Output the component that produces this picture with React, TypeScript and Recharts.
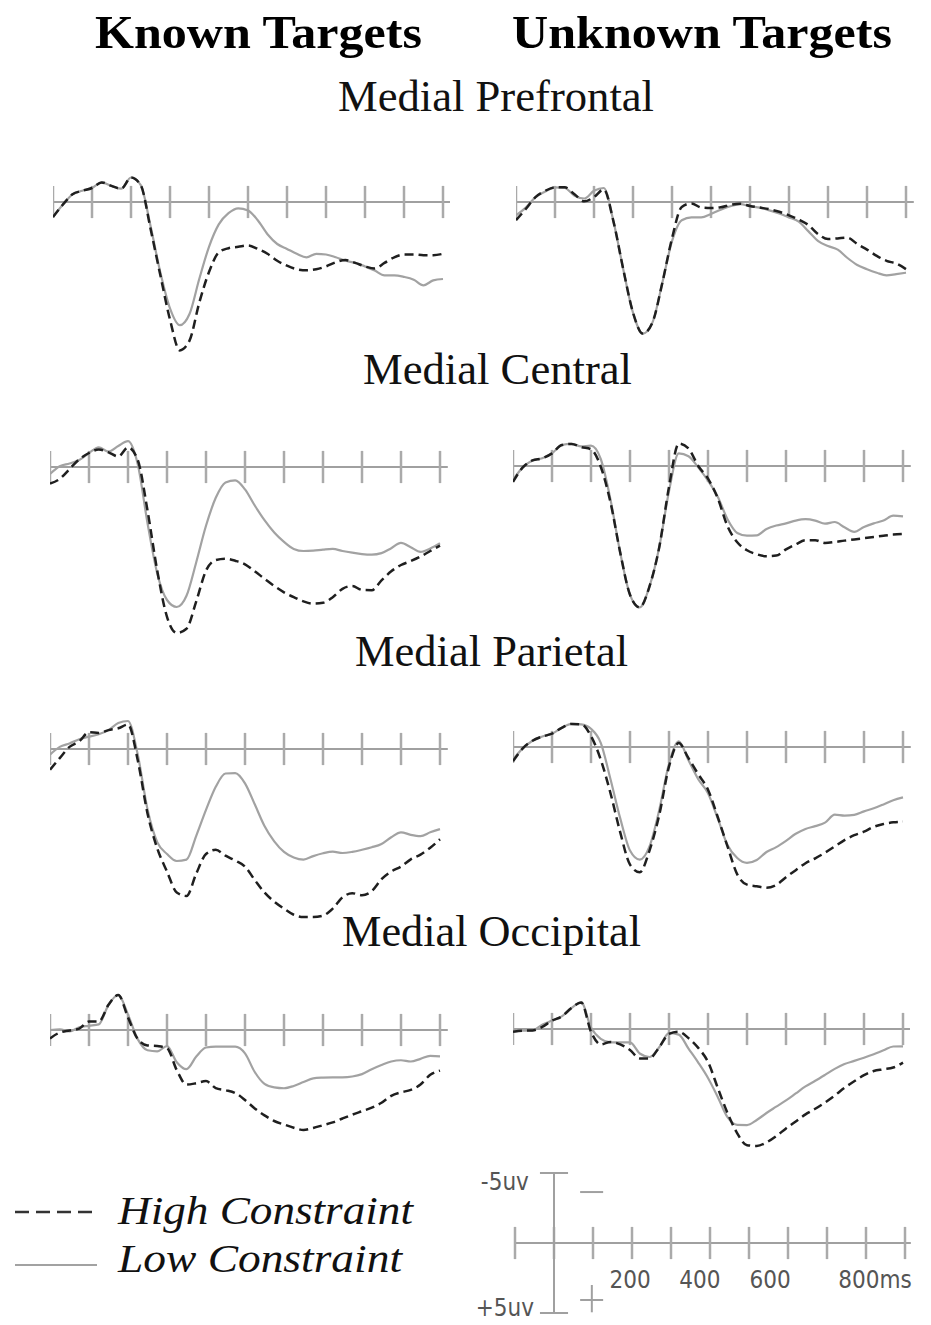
import React from 'react';
import { LineChart, Line, XAxis, YAxis, ReferenceLine, ReferenceDot } from 'recharts';

// sample times (ms), every 25 ms from -100 to 900
const times = [
  -100, -75, -50, -25, 0, 25, 50, 75, 100, 125, 150, 175, 200, 225, 250, 275, 300, 325, 350, 375,
  400, 425, 450, 475, 500, 525, 550, 575, 600, 625, 650, 675, 700, 725, 750, 775, 800, 825, 850, 875, 900,
];
const tickTimes = [-100, 0, 100, 200, 300, 400, 500, 600, 700, 800, 900];
const scaleLabels = ['200', '400', '600', '800ms'];
const scaleLabelTimes = [195, 374, 554, 823];

// amplitudes in microvolts (positive plotted downward)
// Medial Prefrontal
const knownPrefrontalHigh = [1.07, 0.2, -0.55, -0.8, -1.0, -1.4, -1.15, -0.95, -1.75, -1.2, 1.9, 5.2, 8.4, 10.6, 9.9, 7.2, 5.0, 3.6, 3.3, 3.2, 3.1, 3.35, 3.7, 4.2, 4.55, 4.8, 4.88, 4.8, 4.6, 4.3, 4.15, 4.35, 4.6, 4.75, 4.35, 3.95, 3.75, 3.75, 3.8, 3.8, 3.7];
const knownPrefrontalLow = [1.07, 0.2, -0.55, -0.8, -1.0, -1.4, -1.15, -0.95, -1.75, -1.2, 1.7, 5.0, 7.6, 8.8, 8.0, 5.5, 3.2, 1.6, 0.8, 0.45, 0.6, 1.3, 2.3, 3.0, 3.35, 3.7, 3.95, 3.7, 3.75, 3.95, 4.2, 4.35, 4.6, 4.9, 5.24, 5.24, 5.35, 5.55, 5.95, 5.6, 5.5];
const unknownPrefrontalHigh = [1.3, 0.5, -0.35, -0.8, -1.05, -1.05, -0.55, -0.05, -0.35, -0.9, 1.4, 4.8, 7.9, 9.4, 8.6, 5.8, 2.6, 0.35, 0.1, 0.4, 0.43, 0.38, 0.2, 0.12, 0.28, 0.4, 0.52, 0.7, 0.95, 1.25, 1.65, 2.3, 2.65, 2.6, 2.55, 3.0, 3.4, 3.85, 4.2, 4.4, 4.8];
const unknownPrefrontalLow = [0.95, 0.4, -0.35, -0.75, -1.05, -1.0, -0.45, -0.25, -0.8, -1.0, 1.4, 4.8, 7.9, 9.4, 8.6, 5.8, 2.8, 1.3, 1.1, 1.1, 0.85, 0.55, 0.3, 0.15, 0.3, 0.4, 0.6, 0.82, 1.1, 1.4, 2.1, 2.8, 3.15, 3.4, 4.0, 4.5, 4.8, 5.05, 5.24, 5.15, 5.05];

// Medial Central
const knownCentralHigh = [1.19, 0.85, 0.15, -0.55, -1.0, -1.25, -1.05, -0.75, -1.4, -0.5, 3.1, 7.4, 10.7, 11.85, 11.55, 9.6, 7.4, 6.65, 6.55, 6.7, 6.95, 7.45, 7.98, 8.5, 8.95, 9.3, 9.6, 9.76, 9.7, 9.3, 8.7, 8.5, 8.78, 8.8, 8.1, 7.45, 7.0, 6.72, 6.4, 6.0, 5.62];
const knownCentralLow = [0.5, -0.05, -0.25, -0.5, -1.0, -1.4, -1.1, -1.5, -1.85, -0.2, 4.0, 7.6, 9.5, 10.0, 9.2, 6.8, 4.2, 2.2, 1.1, 0.95, 1.6, 2.75, 3.8, 4.68, 5.35, 5.85, 6.0, 5.97, 5.9, 5.85, 6.0, 6.12, 6.22, 6.26, 6.15, 5.8, 5.42, 5.73, 6.06, 5.82, 5.45];
const unknownCentralHigh = [1.14, 0.1, -0.4, -0.55, -0.9, -1.5, -1.58, -1.35, -1.2, 0.05, 2.6, 6.2, 9.2, 10.1, 8.6, 5.8, 1.5, -1.6, -1.25, 0.0, 0.9, 2.3, 4.3, 5.45, 6.02, 6.3, 6.45, 6.4, 5.95, 5.6, 5.3, 5.3, 5.5, 5.43, 5.33, 5.25, 5.16, 5.07, 4.98, 4.9, 4.85];
const unknownCentralLow = [1.0, 0.1, -0.4, -0.55, -0.9, -1.5, -1.58, -1.4, -1.45, -0.5, 2.4, 6.2, 9.2, 10.1, 8.6, 5.8, 1.8, -0.9, -0.7, 0.1, 1.05, 2.2, 3.8, 4.78, 4.97, 4.95, 4.5, 4.25, 4.1, 3.9, 3.8, 3.9, 4.12, 4.0, 4.38, 4.7, 4.35, 4.1, 3.9, 3.55, 3.6];

// Medial Parietal
const knownParietalHigh = [1.48, 0.65, -0.15, -0.55, -1.2, -1.15, -1.35, -1.48, -1.75, 0.8, 4.6, 7.1, 8.75, 10.25, 10.5, 8.9, 7.5, 7.2, 7.62, 7.97, 8.4, 9.35, 10.25, 10.9, 11.4, 11.84, 12.0, 12.0, 11.9, 11.4, 10.6, 10.3, 10.45, 10.15, 9.3, 8.75, 8.4, 7.88, 7.54, 7.05, 6.45];
const knownParietalLow = [0.4, -0.15, -0.4, -0.7, -0.88, -1.05, -1.35, -1.85, -2.0, 0.4, 4.3, 6.65, 7.5, 8.0, 7.9, 6.2, 4.35, 2.7, 1.75, 1.72, 2.45, 3.95, 5.5, 6.6, 7.35, 7.75, 7.9, 7.65, 7.45, 7.33, 7.43, 7.35, 7.2, 7.02, 6.78, 6.3, 5.95, 6.13, 6.22, 5.95, 5.72];
const unknownParietalHigh = [1.02, 0.1, -0.45, -0.75, -0.95, -1.37, -1.65, -1.62, -0.78, 0.9, 3.3, 6.1, 8.4, 8.95, 7.4, 4.85, 1.4, -0.28, 0.8, 1.95, 3.05, 5.0, 7.1, 9.1, 9.83, 9.95, 10.05, 9.85, 9.3, 8.8, 8.3, 7.95, 7.55, 7.1, 6.65, 6.3, 6.05, 5.7, 5.5, 5.38, 5.33];
const unknownParietalLow = [0.9, 0.1, -0.45, -0.75, -0.95, -1.37, -1.65, -1.62, -1.3, -0.3, 2.3, 5.1, 7.4, 8.05, 7.1, 4.5, 1.2, -0.4, 0.95, 2.3, 3.3, 5.1, 7.0, 7.93, 8.28, 8.07, 7.5, 7.15, 6.7, 6.2, 5.85, 5.65, 5.4, 4.83, 4.9, 4.85, 4.6, 4.38, 4.1, 3.8, 3.6];

// Medial Occipital
const knownOccipitalHigh = [0.6, 0.18, 0.03, -0.1, -0.6, -0.6, -1.8, -2.5, -0.9, 0.65, 1.1, 1.15, 1.3, 2.86, 3.9, 3.8, 3.65, 4.15, 4.3, 4.5, 5.0, 5.6, 6.1, 6.5, 6.75, 6.98, 7.14, 7.0, 6.8, 6.6, 6.32, 6.05, 5.8, 5.55, 5.2, 4.7, 4.45, 4.28, 3.9, 3.2, 2.9];
const knownOccipitalLow = [0.0, -0.05, 0.1, -0.2, -0.3, -0.4, -1.8, -2.5, -1.1, 0.65, 1.45, 1.53, 1.15, 2.3, 2.8, 1.9, 1.25, 1.19, 1.19, 1.19, 1.67, 3.0, 3.85, 4.1, 4.16, 4.0, 3.72, 3.45, 3.4, 3.38, 3.38, 3.32, 3.15, 2.8, 2.5, 2.25, 2.16, 2.25, 2.06, 1.85, 1.88];
const unknownOccipitalHigh = [0.19, 0.12, 0.1, -0.15, -0.6, -0.9, -1.5, -1.9, 0.2, 1.1, 0.92, 1.1, 1.5, 2.1, 2.1, 1.3, 0.35, 0.2, 0.65, 1.35, 2.35, 4.2, 6.0, 7.45, 8.3, 8.35, 8.1, 7.65, 7.1, 6.6, 6.1, 5.7, 5.25, 4.75, 4.2, 3.73, 3.3, 3.0, 2.88, 2.75, 2.4];
const unknownOccipitalLow = [0.19, 0.12, 0.1, -0.3, -0.6, -0.9, -1.5, -1.9, -0.1, 0.7, 0.95, 0.95, 0.95, 1.75, 2.0, 1.3, 0.3, 0.4, 1.4, 2.4, 3.5, 4.85, 6.3, 6.85, 6.86, 6.5, 6.0, 5.55, 5.1, 4.6, 4.1, 3.7, 3.28, 2.85, 2.5, 2.28, 2.05, 1.8, 1.52, 1.25, 1.24];

// layout: px per ms / per uV, and where each panel's -100ms tick and baseline sit
const PX_MS = 0.39;
const PX_UV = 14;
const X_MIN = -100;
const X_MAX = 920;
const Y_MIN = -4;
const Y_MAX = 13;
const TICK = 1.15;

const HIGH_COLOR = '#1f1f1f';
const LOW_COLOR = '#a2a2a2';
const AXIS_COLOR = '#a0a0a0';
const SERIF = "'Liberation Serif', 'Times New Roman', serif";
const SANS = "'Liberation Sans Narrow', 'DejaVu Sans Condensed', 'Liberation Sans', sans-serif";

const panels = [
  { left: 52.7, base: 201.7, high: knownPrefrontalHigh, low: knownPrefrontalLow },
  { left: 516, base: 201.7, high: unknownPrefrontalHigh, low: unknownPrefrontalLow },
  { left: 50, base: 466.7, high: knownCentralHigh, low: knownCentralLow },
  { left: 513.3, base: 465.7, high: unknownCentralHigh, low: unknownCentralLow },
  { left: 50, base: 749.3, high: knownParietalHigh, low: knownParietalLow },
  { left: 513.3, base: 747.3, high: unknownParietalHigh, low: unknownParietalLow },
  { left: 50, base: 1030, high: knownOccipitalHigh, low: knownOccipitalLow },
  { left: 512.7, base: 1029, high: unknownOccipitalHigh, low: unknownOccipitalLow },
];

function ErpPanel({ left, base, high, low }: { left: number; base: number; high: number[]; low: number[] }) {
  const data = times.map((t, i) => ({ t, high: high[i], low: low[i] }));
  return (
    <div style={{ position: 'absolute', left, top: base + Y_MIN * PX_UV }}>
      <LineChart
        width={(X_MAX - X_MIN) * PX_MS}
        height={(Y_MAX - Y_MIN) * PX_UV}
        data={data}
        margin={{ top: 0, right: 0, bottom: 0, left: 0 }}
      >
        <XAxis type="number" dataKey="t" domain={[X_MIN, X_MAX]} hide />
        <YAxis type="number" domain={[Y_MIN, Y_MAX]} reversed hide />
        <ReferenceLine y={0} stroke={AXIS_COLOR} strokeWidth={2} />
        {tickTimes.map((t) => (
          <ReferenceLine key={t} segment={[{ x: t, y: -TICK }, { x: t, y: TICK }]} stroke="#aaaaaa" strokeWidth={2.5} />
        ))}
        <Line type="monotone" dataKey="low" stroke={LOW_COLOR} strokeWidth={2.2} dot={false} isAnimationActive={false} />
        <Line type="monotone" dataKey="high" stroke={HIGH_COLOR} strokeWidth={2.5} strokeDasharray="9 5" dot={false} isAnimationActive={false} />
      </LineChart>
    </div>
  );
}

// calibration bar: -5uV / +5uV, 100 ms ticks
function ScaleBar() {
  const xMin = -200;
  const xMax = 1000;
  const yMin = -6;
  const yMax = 6;
  const left = 515 - 100 * PX_MS;
  const label = { fontFamily: SANS, fontSize: 24, fill: '#555' };
  return (
    <div style={{ position: 'absolute', left, top: 1243 + yMin * PX_UV }}>
      <LineChart
        width={(xMax - xMin) * PX_MS}
        height={(yMax - yMin) * PX_UV}
        data={times.map((t) => ({ t, axis: 0 }))}
        margin={{ top: 0, right: 0, bottom: 0, left: 0 }}
      >
        <XAxis type="number" dataKey="t" domain={[xMin, xMax]} allowDataOverflow hide />
        <YAxis type="number" domain={[yMin, yMax]} allowDataOverflow reversed hide />
        <Line type="linear" dataKey="axis" stroke={AXIS_COLOR} strokeWidth={2} dot={false} isAnimationActive={false} />
        <ReferenceLine segment={[{ x: 900, y: 0 }, { x: 915, y: 0 }]} stroke={AXIS_COLOR} strokeWidth={2} />
        {tickTimes.map((t) => (
          <ReferenceLine key={t} segment={[{ x: t, y: -TICK }, { x: t, y: TICK }]} stroke="#aaaaaa" strokeWidth={2.5} />
        ))}
        <ReferenceLine segment={[{ x: 0, y: -5 }, { x: 0, y: 5 }]} stroke={AXIS_COLOR} strokeWidth={2} />
        <ReferenceLine segment={[{ x: -36, y: -5 }, { x: 36, y: -5 }]} stroke={AXIS_COLOR} strokeWidth={2} />
        <ReferenceLine segment={[{ x: -36, y: 5 }, { x: 36, y: 5 }]} stroke={AXIS_COLOR} strokeWidth={2} />
        <ReferenceLine segment={[{ x: 67, y: -3.64 }, { x: 126, y: -3.64 }]} stroke={AXIS_COLOR} strokeWidth={2} />
        <ReferenceLine segment={[{ x: 67, y: 4.07 }, { x: 126, y: 4.07 }]} stroke={AXIS_COLOR} strokeWidth={2} />
        <ReferenceLine segment={[{ x: 97, y: 3.0 }, { x: 97, y: 4.95 }]} stroke={AXIS_COLOR} strokeWidth={2} />
        <ReferenceDot x={-126} y={-4.43} r={0} fill="none" stroke="none" label={{ value: '-5uv', position: 'center', ...label }} />
        <ReferenceDot x={-126} y={4.64} r={0} fill="none" stroke="none" label={{ value: '+5uv', position: 'center', ...label }} />
        {scaleLabelTimes.map((t, i) => (
          <ReferenceDot key={t} x={t} y={2.64} r={0} fill="none" stroke="none" label={{ value: scaleLabels[i], position: 'center', ...label }} />
        ))}
      </LineChart>
    </div>
  );
}

export default function App() {
  return (
    <div style={{ position: 'absolute', left: 0, top: 0, width: 931, height: 1325, background: '#fff', overflow: 'hidden' }}>
      {panels.map((p, i) => (
        <ErpPanel key={i} {...p} />
      ))}
      <ScaleBar />
      <svg width={931} height={1325} style={{ position: 'absolute', left: 0, top: 0, pointerEvents: 'none' }}>
        <g fontFamily={SERIF} fill="#000">
          <text x={95} y={48} fontSize={46} fontWeight="bold" textLength={327} lengthAdjust="spacingAndGlyphs">Known Targets</text>
          <text x={512} y={48} fontSize={46} fontWeight="bold" textLength={380} lengthAdjust="spacingAndGlyphs">Unknown Targets</text>
          <text x={338} y={111} fontSize={44} fill="#111" textLength={316} lengthAdjust="spacingAndGlyphs">Medial Prefrontal</text>
          <text x={363} y={384} fontSize={44} fill="#111" textLength={269} lengthAdjust="spacingAndGlyphs">Medial Central</text>
          <text x={355} y={666} fontSize={44} fill="#111" textLength={273} lengthAdjust="spacingAndGlyphs">Medial Parietal</text>
          <text x={342} y={946} fontSize={44} fill="#111" textLength={299} lengthAdjust="spacingAndGlyphs">Medial Occipital</text>
          <text x={118} y={1224} fontSize={40} fontStyle="italic" fill="#111" textLength={295} lengthAdjust="spacingAndGlyphs">High Constraint</text>
          <text x={118} y={1272} fontSize={40} fontStyle="italic" fill="#111" textLength={284} lengthAdjust="spacingAndGlyphs">Low Constraint</text>
        </g>
        <line x1={15} y1={1212} x2={97} y2={1212} stroke="#333" strokeWidth={2.5} strokeDasharray="14 7" />
        <line x1={15} y1={1265} x2={97} y2={1265} stroke={LOW_COLOR} strokeWidth={2} />
      </svg>
    </div>
  );
}
